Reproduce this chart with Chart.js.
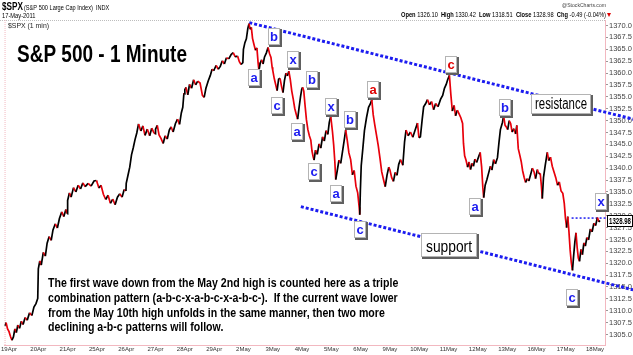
<!DOCTYPE html>
<html><head><meta charset="utf-8">
<script src="https://cdn.jsdelivr.net/npm/chart.js@4.4.1/dist/chart.umd.min.js"></script>
<style>html,body{margin:0;padding:0;background:#fff;overflow:hidden}canvas{display:block}</style>
</head><body>
<canvas id="c" width="633" height="355"></canvas>
<script>
// ---------- DATA ----------
const dateLabels = ['19Apr','20Apr','21Apr','25Apr','26Apr','27Apr','28Apr','29Apr','2May','3May','4May','5May','6May','9May','10May','11May','12May','13May','16May','17May','18May'];

// position in trading days (0 = 19Apr session start) and S&P 500 price
const dayPos = [
-0.15,-0.1,-0.05,
0.0,0.05,0.1,0.15,0.2,0.25,0.3,0.36,0.42,0.48,0.55,0.62,0.7,0.78,0.85,0.92,0.98,
1.0,1.05,1.1,1.17,1.24,1.3,1.37,1.44,1.5,1.58,1.65,1.72,1.8,1.87,1.94,1.99,
2.0,2.06,2.12,2.2,2.28,2.36,2.44,2.52,2.6,2.7,2.8,2.9,2.98,
3.0,3.07,3.14,3.22,3.3,3.38,3.46,3.54,3.62,3.7,3.78,3.86,3.93,3.99,
4.0,4.06,4.12,4.18,4.24,4.3,4.36,4.42,4.5,4.57,4.64,4.72,4.8,4.87,4.94,4.99,
5.0,5.06,5.12,5.19,5.26,5.33,5.4,5.47,5.53,5.6,5.68,5.75,5.82,5.88,5.93,5.97,5.99,
6.0,6.04,6.1,6.16,6.23,6.3,6.37,6.44,6.52,6.6,6.66,6.72,6.8,6.87,6.93,6.99,
7.0,7.07,7.14,7.21,7.28,7.35,7.42,7.5,7.58,7.65,7.72,7.8,7.86,7.92,7.98,
8.0,8.05,8.1,8.15,8.19,8.23,8.27,8.31,8.36,8.41,8.46,8.5,8.53,8.57,8.62,8.67,8.72,8.78,8.84,8.89,8.94,8.98,
9.0,9.05,9.1,9.15,9.2,9.25,9.3,9.35,9.4,9.45,9.5,9.55,9.6,9.65,9.7,9.75,9.8,9.85,9.9,9.95,9.99,
10.02,10.06,10.1,10.15,10.2,10.25,10.3,10.34,10.38,10.41,10.46,10.52,10.58,10.64,10.7,10.76,10.82,10.88,10.93,10.98,
11.0,11.04,11.08,11.12,11.15,11.2,11.26,11.32,11.38,11.44,11.49,11.54,11.6,11.66,11.72,11.78,11.84,11.9,11.95,11.97,11.99,
12.02,12.07,12.13,12.2,12.27,12.33,12.38,12.43,12.48,12.54,12.6,12.66,12.72,12.78,12.84,12.9,12.96,
13.0,13.06,13.12,13.18,13.24,13.3,13.36,13.44,13.5,13.55,13.62,13.7,13.78,13.86,13.94,13.99,
14.04,14.1,14.15,14.22,14.28,14.35,14.42,14.49,14.56,14.64,14.73,14.8,14.86,14.92,14.97,15.03,
15.08,15.13,15.19,15.24,15.3,15.36,15.42,15.48,15.51,15.55,15.6,15.65,15.7,15.75,15.8,15.85,15.9,15.96,
16.02,16.08,16.13,16.17,16.2,16.25,16.31,16.37,16.43,16.48,16.54,16.6,16.67,16.72,16.77,16.84,16.88,16.93,16.98,
17.02,17.07,17.12,17.17,17.23,17.29,17.33,17.38,17.43,17.48,17.53,17.58,17.63,17.69,17.74,17.8,17.86,17.92,17.97,
18.03,18.08,18.13,18.17,18.2,18.24,18.3,18.37,18.42,18.48,18.54,18.6,18.66,18.72,18.78,18.84,18.9,18.95,18.99,
19.03,19.07,19.11,19.15,19.19,19.23,19.27,19.31,19.35,19.39,19.43,19.47,19.52,19.57,19.62,19.67,19.72,19.78,19.84,19.9,19.96,20.02,20.08,20.13,20.17
];
const spxPrice = [
1306.8,1307.5,1306.2,
1305.6,1304.6,1303.8,1304.5,1306.2,1305.4,1307.0,1306.3,1307.8,1307.1,1308.6,1308.0,1309.6,1309.0,1310.8,1311.5,1312.6,
1318.8,1320.5,1319.6,1322.3,1321.5,1324.2,1325.6,1324.8,1327.0,1328.3,1327.4,1329.4,1330.8,1329.8,1331.3,1330.4,
1333.2,1334.8,1333.9,1335.9,1335.0,1336.4,1335.6,1336.9,1336.1,1336.8,1336.2,1337.3,1337.4,
1337.1,1335.8,1336.4,1334.5,1333.4,1334.3,1332.6,1333.5,1332.3,1333.9,1334.6,1333.9,1335.5,1335.2,
1336.8,1338.5,1340.2,1342.8,1344.3,1346.0,1347.4,1349.3,1347.8,1348.9,1346.9,1348.2,1346.8,1348.4,1347.5,1347.2,
1348.2,1349.0,1347.0,1346.2,1345.2,1346.8,1346.1,1348.0,1348.7,1347.6,1349.4,1350.3,1349.2,1351.6,1352.8,1355.8,1355.6,
1356.5,1357.0,1355.4,1357.6,1356.8,1358.6,1357.5,1358.3,1357.9,1355.3,1354.9,1356.8,1358.4,1359.5,1360.8,1360.5,
1360.7,1361.6,1360.8,1361.4,1362.6,1361.9,1363.2,1363.0,1363.9,1364.3,1363.4,1363.6,1362.4,1361.8,1362.2,
1365.0,1366.4,1367.2,1369.4,1370.4,1369.2,1369.6,1367.3,1366.0,1364.8,1365.3,1362.2,1360.5,1362.0,1362.8,1361.9,1363.4,1364.2,1365.4,1364.1,1363.3,1361.2,
1360.6,1358.9,1357.6,1356.3,1358.7,1358.9,1357.2,1355.9,1358.4,1360.0,1359.4,1360.4,1358.6,1356.2,1354.5,1352.6,1351.4,1350.3,1352.8,1355.1,1356.6,
1357.0,1356.2,1353.4,1350.2,1348.1,1346.8,1345.9,1343.6,1342.4,1341.7,1343.8,1342.9,1345.1,1344.2,1346.6,1345.7,1347.9,1347.1,1349.6,1350.9,
1349.8,1347.6,1344.9,1341.3,1337.6,1339.4,1341.7,1341.0,1343.4,1345.9,1348.0,1346.0,1343.2,1341.8,1338.6,1339.5,1336.2,1334.8,1331.8,1330.2,1335.1,
1340.5,1343.8,1347.9,1350.6,1352.8,1353.5,1354.4,1351.2,1349.2,1347.0,1344.8,1342.1,1339.2,1337.6,1336.1,1338.5,1340.2,
1339.6,1338.0,1337.2,1339.1,1338.5,1340.8,1341.8,1340.6,1345.6,1348.0,1346.8,1347.6,1346.5,1348.0,1349.5,1346.4,
1346.6,1350.2,1352.9,1353.6,1354.4,1353.3,1354.0,1352.3,1353.6,1352.9,1354.5,1355.3,1356.8,1357.6,1358.6,1359.5,
1355.4,1352.0,1353.2,1351.0,1352.2,1351.4,1350.6,1349.4,1345.2,1342.6,1341.6,1340.2,1341.3,1339.7,1341.0,1340.4,1341.9,1341.2,
1342.3,1343.3,1340.2,1336.0,1333.8,1336.4,1337.6,1339.0,1340.4,1339.6,1341.8,1340.9,1342.2,1345.3,1348.1,1349.6,1351.0,1349.0,1348.6,
1348.1,1350.0,1349.4,1347.6,1348.3,1347.2,1349.0,1344.1,1342.8,1341.4,1339.4,1338.1,1337.0,1337.8,1337.3,1338.6,1340.0,1339.2,1337.8,
1339.7,1338.8,1338.9,1336.2,1333.6,1338.0,1340.6,1343.3,1341.6,1342.3,1340.4,1339.2,1338.0,1336.4,1337.1,1335.2,1334.7,1332.6,1329.5,
1327.5,1329.8,1326.6,1322.8,1320.1,1318.5,1321.6,1324.4,1326.4,1323.3,1321.1,1320.4,1322.9,1321.8,1324.3,1323.6,1325.4,1324.9,1327.2,1326.6,1328.4,1327.9,1329.6,1328.7,1328.98
];

const resistanceDay = [8.2, 21.3];
const resistancePrice = [1370.6, 1350.3];
const supportDay = [9.96, 21.3];
const supportPrice = [1331.9, 1314.4];
const xLevelDay = [19.2, 20.4];
const xLevelPrice = [1329.5, 1329.5];

// wave count annotations
const waveText  = ['a','b','c','x','a','b','c','x','a','b','c','a','c','a','b','c','x'];
const waveDay   = [8.36,9.04,9.14,9.69,9.82,10.34,10.4,10.98,11.15,11.63,11.97,12.41,15.1,15.92,16.92,19.22,20.21];
const wavePrice = [1359.0,1367.7,1353.2,1362.8,1347.7,1358.6,1339.3,1353.0,1334.7,1350.2,1327.1,1356.5,1361.8,1331.9,1352.8,1312.8,1333.0];
const waveKind  = ['down','down','down','down','down','down','down','down','down','down','down','up','up','down','down','down','down'];

const trendNames = ['resistance','support'];
const trendNameDay = [18.85, 15.03];
const trendNamePrice = [1353.4, 1323.9];

const yTickStep = 2.5;
const lastClose = 1328.98;

const titleText = 'S&P 500 - 1 Minute';
const noteLines = [
 'The first wave down from the May 2nd high is counted here as a triple',
 'combination pattern (a-b-c-x-a-b-c-x-a-b-c-).  If the current wave lower',
 'from the May 10th high unfolds in the same manner, then two more',
 'declining a-b-c patterns will follow.'
];

// ---------- STYLE ----------
const BLUE = '#1c1cf0';
const RED = '#e00000';
const SANS = '"Liberation Sans", Arial, Helvetica, sans-serif';
function hasFont(name){
  const c=document.createElement('canvas').getContext('2d');
  c.font='40px monospace'; const w1=c.measureText('abcdefghijklmWWii0123').width;
  c.font='40px "'+name+'", monospace'; return c.measureText('abcdefghijklmWWii0123').width!==w1;
}
const NARROW = hasFont('Liberation Sans Narrow');

function txt(ctx, s, x, y, o){
  ctx.save();
  ctx.font = (o.bold?'bold ':'') + o.size + 'px ' + SANS;
  ctx.fillStyle = o.color || '#000';
  ctx.textBaseline = o.baseline || 'alphabetic';
  ctx.textAlign = 'left';
  const raw = ctx.measureText(s).width;
  const sx = o.width ? o.width/raw : (o.sx || 0.82);
  const w = raw*sx;
  let x0 = o.align==='right' ? x-w : (o.align==='center' ? x-w/2 : x);
  ctx.translate(x0, y); ctx.scale(sx,1); ctx.fillText(s,0,0);
  ctx.restore();
  return w;
}

// white label box with a dark drop shadow; returns its top-left corner
function box(ctx, cx, cy, w, h){
  const l = Math.round(cx - w/2), t = Math.round(cy - h/2);
  ctx.save();
  ctx.fillStyle = '#606060';
  ctx.fillRect(l+1, t+1, w+1, h+1);
  ctx.fillStyle = '#fff';
  ctx.fillRect(l, t, w, h);
  ctx.strokeStyle = '#b4b4b4'; ctx.lineWidth = 1;
  ctx.strokeRect(l+0.5, t+0.5, w-1, h-1);
  ctx.restore();
  return {l, t};
}

const decor = {
  id:'decor',
  beforeDatasetsDraw(chart){
    const {ctx, chartArea:a} = chart;
    ctx.save();
    ctx.lineWidth = 1;
    ctx.setLineDash([1,1]);
    ctx.strokeStyle = '#bdbdbd';
    ctx.beginPath(); ctx.moveTo(0, a.top+0.5); ctx.lineTo(a.right, a.top+0.5); ctx.stroke();
    ctx.strokeStyle = '#f2b8c0';
    ctx.beginPath(); ctx.moveTo(a.left+0.5, a.top); ctx.lineTo(a.left+0.5, a.bottom); ctx.stroke();
    ctx.restore();
  },
  afterDatasetsDraw(chart){
    const {ctx} = chart;
    const xs = chart.scales.x, ys = chart.scales.y;
    // wave labels
    for (let i=0;i<waveText.length;i++){
      const px = xs.getPixelForValue(waveDay[i]), py = ys.getPixelForValue(wavePrice[i]);
      const w = 12, h = 17;
      const b = box(ctx, px, py, w, h);
      ctx.save();
      ctx.font = 'bold 13px ' + SANS;
      ctx.fillStyle = waveKind[i]==='up' ? RED : BLUE;
      ctx.textAlign='center'; ctx.textBaseline='alphabetic';
      ctx.fillText(waveText[i], b.l + w/2, b.t + 12.5);
      ctx.restore();
    }
    // trendline names
    const tb = [[60,20,52],[56,24,46]];
    for (let i=0;i<trendNames.length;i++){
      const px = xs.getPixelForValue(trendNameDay[i]), py = ys.getPixelForValue(trendNamePrice[i]);
      const [w,h,tw] = tb[i];
      const b = box(ctx, px, py, w, h);
      txt(ctx, trendNames[i], b.l + w/2, b.t + h - 5, {size:16, color:'#000', align:'center', width: tw});
    }
    // title and note
    txt(ctx, titleText, 17, 62, {size:24, bold:true, width:170});
    noteLines.forEach((l,i)=>{
      txt(ctx, l, 48, 287+i*14.8, {size:13.4, bold:true, sx: 0.79});
    });
  },
  afterDraw(chart){
    const {ctx} = chart;
    const ys = chart.scales.y;
    // header
    txt(ctx, '$SPX', 2, 10, {size:10.5, bold:true, sx:0.78});
    txt(ctx, '(S&P 500 Large Cap Index)  INDX', 24, 9.5, {size:7, sx:0.8});
    txt(ctx, '17-May-2011', 2, 18, {size:7, sx:0.82});
    txt(ctx, '$SPX (1 min)', 8, 27.5, {size:7.5, sx:0.92, color:'#222'});
    txt(ctx, '@StockCharts.com', 606, 7, {size:6, sx:0.85, align:'right', color:'#444'});
    // quote line
    const parts = [['Open ',1],['1326.10  ',0],['High ',1],['1330.42  ',0],['Low ',1],['1318.51  ',0],['Close ',1],['1328.98  ',0],['Chg ',1],['-0.49 (-0.04%)',0]];
    ctx.save();
    let tot = 0;
    parts.forEach(p=>{ ctx.font=(p[1]?'bold ':'')+'7.5px '+SANS; tot += ctx.measureText(p[0]).width; });
    ctx.restore();
    const sxq = 205/tot; let xq = 401;
    parts.forEach(p=>{ xq += txt(ctx, p[0], xq, 17, {size:7.5, bold:!!p[1], sx:sxq}); });
    ctx.save(); ctx.fillStyle = RED; ctx.beginPath(); ctx.moveTo(607,13); ctx.lineTo(611,13); ctx.lineTo(609,17); ctx.closePath(); ctx.fill(); ctx.restore();
    // last price box
    const py = Math.round(ys.getPixelForValue(lastClose));
    ctx.save();
    ctx.fillStyle='#fff'; ctx.fillRect(607.5, py-5.5, 25, 11);
    ctx.strokeStyle='#000'; ctx.lineWidth=1; ctx.strokeRect(607.5, py-5.5, 25, 11);
    ctx.restore();
    txt(ctx, lastClose.toFixed(2), 620, py+3.2, {size:8.5, bold:true, align:'center', width:22});
  }
};

const tickFamily = NARROW ? '"Liberation Sans Narrow", ' + SANS : SANS;

const priceData = dayPos.map((d,i)=>({x:d, y:spxPrice[i]}));
const mk = (ds, ps) => ds.map((d,i)=>({x:d, y:ps[i]}));

new Chart(document.getElementById('c'), {
  type:'line',
  data:{ datasets:[
    { data: priceData, borderWidth:1.7, pointRadius:0, tension:0,
      borderColor:'#000',
      segment:{ borderColor: c => c.p1.parsed.y >= c.p0.parsed.y ? '#000' : '#e8000b' } },
    { data: mk(resistanceDay, resistancePrice), borderColor:BLUE, borderWidth:3, borderDash:[3,2], pointRadius:0, clip:false, borderCapStyle:'butt' },
    { data: mk(supportDay, supportPrice), borderColor:BLUE, borderWidth:3, borderDash:[3,2], pointRadius:0, clip:false, borderCapStyle:'butt' },
    { data: mk(xLevelDay, xLevelPrice), borderColor:BLUE, borderWidth:1.5, borderDash:[2,2], pointRadius:0, clip:false }
  ]},
  options:{
    responsive:false, animation:false, devicePixelRatio:1,
    layout:{ padding:{ top:20, left:3, right:0, bottom:0 } },
    plugins:{ legend:{display:false}, tooltip:{enabled:false} },
    scales:{
      x:{ type:'linear', min:-0.153, max:20.34, position:'bottom',
        afterFit: s => { s.height = 10; },
        afterBuildTicks: s => { s.ticks = dateLabels.map((_,i)=>({value:i})); },
        ticks:{ callback: v => dateLabels[v] ?? '', maxRotation:0, autoSkip:false,
          font:{ family: tickFamily, size: NARROW?7:6 }, color:'#333', padding:1 },
        grid:{ display:true, drawOnChartArea:false, drawTicks:false },
        border:{ display:true, color:'#f2b8c0', dash:[1,1] } },
      y:{ type:'linear', position:'right', min:1302.8, max:1371.16,
        afterFit: s => { s.width = 28; },
        ticks:{ stepSize:yTickStep, includeBounds:false, callback: v => Number(v).toFixed(1),
          font:{ family: SANS, size:7.5 }, color:'#444', padding:1 },
        grid:{ drawOnChartArea:false, drawTicks:true, tickLength:3, color:'#999' },
        border:{ display:true, color:'#f2b8c0', dash:[1,1] } }
    }
  },
  plugins:[decor]
});
</script>
</body></html>
